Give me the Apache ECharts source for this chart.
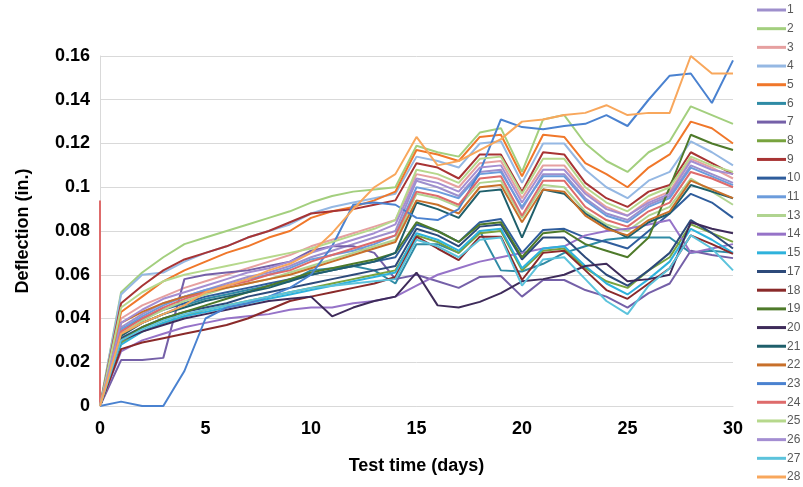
<!DOCTYPE html>
<html><head><meta charset="utf-8">
<script src="https://cdn.jsdelivr.net/npm/echarts@6/dist/echarts.min.js"></script>
<style>html,body{margin:0;padding:0;background:#fff}#c{width:803px;height:487px}</style>
</head><body><div id="c"></div>
<script>
const days = [0,1,2,3,4,5,6,7,8,9,10,11,12,13,14,15,16,17,18,19,20,21,22,23,24,25,26,27,28,29,30];
const yTicks = [0,0.02,0.04,0.06,0.08,0.1,0.12,0.14,0.16];
const seriesNames = ['1','2','3','4','5','6','7','8','9','10','11','13','14','15','17','18','19','20','21','22','23','24','25','26','27','28'];
const s1 = [0,0.036,0.042,0.047,0.050,0.053,0.056,0.059,0.061,0.064,0.068,0.071,0.074,0.077,0.080,0.103,0.100,0.096,0.107,0.108,0.090,0.106,0.106,0.095,0.088,0.085,0.092,0.096,0.110,0.106,0.102];
const s2 = [0,0.052,0.061,0.068,0.074,0.077,0.080,0.083,0.086,0.089,0.093,0.096,0.098,0.099,0.100,0.119,0.116,0.114,0.125,0.127,0.107,0.131,0.133,0.120,0.112,0.107,0.116,0.121,0.137,0.133,0.129];
const s3 = [0,0.040,0.046,0.050,0.054,0.057,0.060,0.063,0.066,0.069,0.073,0.076,0.079,0.082,0.085,0.106,0.104,0.100,0.111,0.112,0.095,0.110,0.110,0.098,0.091,0.087,0.094,0.098,0.113,0.109,0.104];
const s4 = [0,0.051,0.060,0.061,0.066,0.070,0.073,0.077,0.080,0.083,0.088,0.091,0.093,0.095,0.097,0.114,0.112,0.109,0.120,0.121,0.102,0.120,0.120,0.108,0.100,0.095,0.103,0.107,0.121,0.116,0.110];
const s5 = [0,0.043,0.050,0.057,0.062,0.066,0.070,0.073,0.077,0.080,0.086,0.089,0.091,0.094,0.098,0.117,0.115,0.112,0.123,0.124,0.105,0.124,0.123,0.111,0.106,0.100,0.109,0.115,0.130,0.127,0.120];
const s6 = [0,0.033,0.038,0.042,0.046,0.049,0.051,0.053,0.055,0.057,0.062,0.063,0.064,0.062,0.056,0.074,0.074,0.070,0.080,0.062,0.0615,0.065,0.070,0.073,0.076,0.077,0.077,0.077,0.070,0.071,0.070];
const s7 = [0,0.021,0.021,0.022,0.058,0.060,0.061,0.062,0.064,0.066,0.071,0.073,0.073,0.070,0.058,0.060,0.057,0.054,0.059,0.0594,0.050,0.0576,0.0576,0.053,0.050,0.045,0.0516,0.056,0.071,0.069,0.0676];
const s8 = [0,0.029,0.034,0.038,0.041,0.044,0.046,0.048,0.050,0.052,0.054,0.056,0.058,0.060,0.062,0.078,0.075,0.070,0.079,0.080,0.062,0.071,0.072,0.063,0.057,0.054,0.062,0.068,0.083,0.079,0.075];
const s9 = [0,0.047,0.055,0.062,0.067,0.070,0.073,0.077,0.080,0.084,0.088,0.089,0.090,0.092,0.094,0.111,0.109,0.104,0.115,0.115,0.098,0.116,0.115,0.102,0.095,0.091,0.098,0.101,0.116,0.111,0.106];
const s10 = [0,0.035,0.040,0.044,0.047,0.050,0.052,0.054,0.056,0.058,0.060,0.062,0.064,0.066,0.068,0.083,0.080,0.075,0.084,0.0855,0.070,0.0805,0.081,0.077,0.075,0.072,0.080,0.088,0.097,0.093,0.086];
const s11 = [0,0.035,0.041,0.046,0.050,0.053,0.055,0.058,0.060,0.063,0.067,0.069,0.071,0.074,0.078,0.100,0.098,0.095,0.106,0.107,0.091,0.105,0.105,0.094,0.087,0.084,0.091,0.095,0.109,0.105,0.101];
const s13 = [0,0.033,0.039,0.044,0.048,0.051,0.054,0.056,0.058,0.061,0.064,0.067,0.070,0.073,0.076,0.097,0.095,0.091,0.102,0.103,0.086,0.101,0.100,0.089,0.083,0.080,0.087,0.091,0.104,0.098,0.092];
const s14 = [0,0.025,0.030,0.033,0.036,0.038,0.040,0.041,0.042,0.044,0.045,0.045,0.047,0.048,0.050,0.055,0.060,0.063,0.066,0.068,0.070,0.072,0.073,0.078,0.080,0.081,0.083,0.085,0.070,0.072,0.074];
const s15 = [0,0.028,0.034,0.038,0.041,0.043,0.045,0.047,0.049,0.051,0.053,0.055,0.057,0.059,0.061,0.079,0.076,0.071,0.080,0.081,0.063,0.072,0.073,0.064,0.056,0.051,0.058,0.066,0.081,0.076,0.070];
const s17 = [0,0.031,0.036,0.040,0.043,0.045,0.047,0.050,0.052,0.054,0.056,0.058,0.060,0.062,0.064,0.081,0.078,0.073,0.082,0.083,0.067,0.077,0.077,0.068,0.060,0.055,0.062,0.070,0.085,0.079,0.072];
const s18 = [0,0.026,0.029,0.031,0.033,0.035,0.037,0.040,0.044,0.048,0.050,0.052,0.054,0.056,0.059,0.0774,0.072,0.0667,0.0774,0.0774,0.0576,0.070,0.071,0.062,0.053,0.049,0.056,0.063,0.078,0.074,0.0695];
const s19 = [0,0.030,0.036,0.040,0.043,0.046,0.049,0.052,0.055,0.058,0.061,0.063,0.065,0.067,0.070,0.084,0.080,0.075,0.083,0.084,0.068,0.079,0.080,0.074,0.071,0.068,0.077,0.100,0.124,0.120,0.117];
const s20 = [0,0.030,0.034,0.037,0.040,0.042,0.044,0.046,0.048,0.049,0.050,0.041,0.045,0.048,0.050,0.061,0.046,0.045,0.0476,0.0516,0.057,0.058,0.060,0.064,0.065,0.057,0.058,0.060,0.084,0.081,0.079];
const s21 = [0,0.032,0.038,0.042,0.045,0.048,0.050,0.052,0.054,0.057,0.060,0.062,0.064,0.066,0.070,0.093,0.090,0.086,0.098,0.099,0.077,0.099,0.097,0.088,0.082,0.077,0.084,0.088,0.101,0.098,0.095];
const s22 = [0,0.038,0.043,0.047,0.050,0.052,0.054,0.056,0.058,0.060,0.063,0.066,0.069,0.072,0.075,0.094,0.092,0.088,0.100,0.101,0.084,0.099,0.098,0.087,0.081,0.078,0.085,0.089,0.103,0.099,0.095];
const s23 = [0,0.002,0,0,0.016,0.040,0.045,0.047,0.050,0.054,0.060,0.073,0.092,0.093,0.092,0.086,0.085,0.090,0.107,0.131,0.1275,0.1265,0.128,0.129,0.133,0.128,0.140,0.151,0.152,0.1385,0.158];
const s24Start = 0.094;
const s24 = [0,0.034,0.040,0.045,0.049,0.052,0.055,0.057,0.060,0.062,0.066,0.069,0.072,0.075,0.078,0.098,0.096,0.092,0.104,0.105,0.087,0.103,0.103,0.091,0.085,0.082,0.089,0.093,0.107,0.104,0.100];
const s25 = [0,0.045,0.052,0.057,0.060,0.062,0.064,0.066,0.068,0.070,0.072,0.075,0.078,0.081,0.085,0.108,0.106,0.102,0.113,0.114,0.097,0.113,0.113,0.100,0.093,0.089,0.096,0.100,0.114,0.110,0.107];
const s26 = [0,0.038,0.044,0.049,0.052,0.055,0.058,0.061,0.063,0.066,0.070,0.073,0.076,0.079,0.083,0.104,0.102,0.098,0.109,0.110,0.093,0.108,0.108,0.097,0.090,0.087,0.093,0.097,0.112,0.108,0.106];
const s27 = [0,0.030,0.035,0.039,0.042,0.044,0.046,0.048,0.050,0.052,0.054,0.055,0.056,0.057,0.058,0.076,0.073,0.068,0.076,0.077,0.055,0.067,0.068,0.058,0.048,0.042,0.055,0.063,0.078,0.072,0.062];
const s28 = [0,0.033,0.038,0.042,0.046,0.052,0.055,0.058,0.062,0.065,0.070,0.079,0.090,0.100,0.106,0.123,0.110,0.112,0.117,0.122,0.130,0.131,0.133,0.134,0.1375,0.133,0.134,0.134,0.160,0.152,0.152];

const seriesValues = [s1,s2,s3,s4,s5,s6,s7,s8,s9,s10,s11,s13,s14,s15,s17,s18,s19,s20,s21,s22,s23,s24,s25,s26,s27,s28];
const colors = ['#9e8fcc','#a3cf7e','#e6a0a0','#95b8e3','#f0772a','#2f8ba5','#7560a8','#78a33e','#a83434','#2f5d9c','#6c9cdc','#b0d490','#9673c8','#2eb2dc','#2d4a7a','#8a2a2a','#4e7a2a','#3e2b5a','#1f5f6b','#c8702a','#4a82d0','#de6b6b','#b6d88c','#a48ed2','#5cc3dc','#f8a75c'];

const chart = echarts.init(document.getElementById('c'));
const series = seriesNames.map((n, i) => {
  let data = days.map((d, j) => [d, seriesValues[i][j]]);
  if (n === '24') data = [[days[0], s24Start]].concat(data);
  return {
    name: n, type: 'line', data: data, showSymbol: false, symbol: 'none',
    lineStyle: { width: 2, color: colors[i] }, itemStyle: { color: colors[i] },
    animation: false, z: 2
  };
});
const font = '"Liberation Sans", Arial, sans-serif';
chart.setOption({
  animation: false,
  color: colors,
  grid: { left: 100, right: 70, top: 56, bottom: 81, containLabel: false },
  legend: {
    orient: 'vertical', left: 757, top: 3, padding: 0, itemWidth: 29, itemHeight: 3, itemGap: 4.68,
    icon: 'rect', data: seriesNames,
    textStyle: { fontFamily: font, fontSize: 12, color: '#595959', lineHeight: 14, height: 14, padding: [0,0,0,-4] }
  },
  xAxis: {
    type: 'value', min: 0, max: 30, interval: 5,
    name: 'Test time (days)', nameLocation: 'middle', nameGap: 51,
    nameTextStyle: { fontFamily: font, fontSize: 18, fontWeight: 'bold', color: '#000' },
    axisLine: { show: true, lineStyle: { color: '#d9d9d9' } },
    axisTick: { show: false },
    splitLine: { show: false },
    axisLabel: { fontFamily: font, fontSize: 18, fontWeight: 'bold', color: '#000', margin: 14 }
  },
  yAxis: {
    type: 'value', min: yTicks[0], max: yTicks[yTicks.length-1], interval: 0.02,
    name: 'Deflection (in.)', nameLocation: 'middle', nameGap: 68, nameRotate: 90,
    nameTextStyle: { fontFamily: font, fontSize: 18, fontWeight: 'bold', color: '#000' },
    axisLine: { show: true, lineStyle: { color: '#d9d9d9' } },
    axisTick: { show: false },
    splitLine: { show: true, lineStyle: { color: '#d9d9d9', width: 1 } },
    axisLabel: { fontFamily: font, fontSize: 18, fontWeight: 'bold', color: '#000', margin: 10 }
  },
  series: series
});
</script></body></html>
